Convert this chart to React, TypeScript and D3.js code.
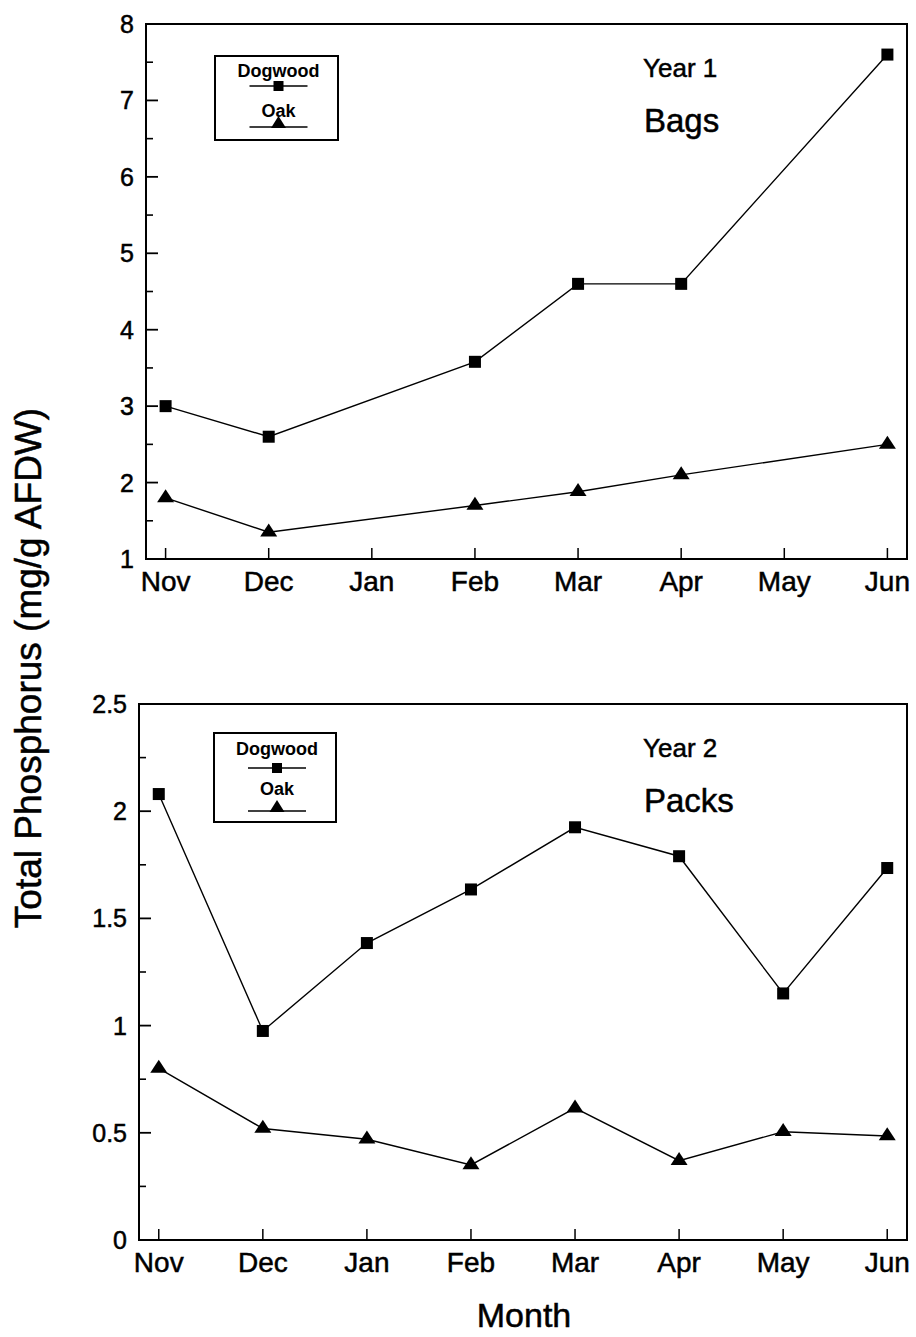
import React from "react";
import * as d3 from "d3";

// Sampling months shown on the x axis
const months = ["Nov", "Dec", "Jan", "Feb", "Mar", "Apr", "May", "Jun"];

// Year 1 (bags): sampled months and total P (mg/g AFDW)
const year1Months = ["Nov", "Dec", "Feb", "Mar", "Apr", "Jun"];
const dogwoodYear1 = [3.0, 2.6, 3.58, 4.6, 4.6, 7.6];
const oakYear1 = [1.8, 1.35, 1.7, 1.88, 2.1, 2.5];

// Year 2 (packs)
const year2Months = ["Nov", "Dec", "Jan", "Feb", "Mar", "Apr", "May", "Jun"];
const dogwoodYear2 = [2.08, 0.975, 1.385, 1.635, 1.925, 1.79, 1.15, 1.735];
const oakYear2 = [0.8, 0.52, 0.47, 0.35, 0.615, 0.37, 0.505, 0.485];

// Axis ticks
const year1Ticks = [1, 2, 3, 4, 5, 6, 7, 8];
const year1Minor = [1.5, 2.5, 3.5, 4.5, 5.5, 6.5, 7.5];
const year2Ticks = [0, 0.5, 1, 1.5, 2, 2.5];
const year2Minor = [0.25, 0.75, 1.25, 1.75, 2.25];

const FONT = "'Liberation Sans', Arial, Helvetica, sans-serif";
// slight outline gives the text the heavier weight of the printed figure
const TEXT_STYLE = { stroke: "#000", strokeWidth: 0.5 };

type PanelProps = {
  left: number;
  right: number;
  top: number;
  bottom: number;
  domain: [number, number];
  ticks: number[];
  minor: number[];
  tickFormat: (v: number) => string;
  seriesMonths: string[];
  dogwood: number[];
  oak: number[];
  yearLabel: string;
  typeLabel: string;
  legendBox: { x: number; y: number; w: number; h: number };
  legendRows: { dogText: number; dogLine: number; oakText: number; oakLine: number };
};

const Square = ({ cx, cy, s }: { cx: number; cy: number; s: number }) => (
  <rect x={cx - s / 2} y={cy - s / 2} width={s} height={s} fill="#000" />
);

const Triangle = ({ cx, cy, w, h }: { cx: number; cy: number; w: number; h: number }) => (
  <path
    d={`M${cx},${cy - (h * 2) / 3}L${cx + w / 2},${cy + h / 3}L${cx - w / 2},${cy + h / 3}Z`}
    fill="#000"
  />
);

function Panel(p: PanelProps) {
  const x = d3.scalePoint<string>().domain(months).range([p.left, p.right]).padding(0.19);
  const y = d3.scaleLinear().domain(p.domain).range([p.bottom, p.top]);
  const line = d3
    .line<[string, number]>()
    .x((d) => x(d[0]) as number)
    .y((d) => y(d[1]));
  const dogPts: [string, number][] = p.seriesMonths.map((m, i) => [m, p.dogwood[i]]);
  const oakPts: [string, number][] = p.seriesMonths.map((m, i) => [m, p.oak[i]]);
  const lb = p.legendBox;
  const lcx = lb.x + lb.w / 2 + 2;
  return (
    <g>
      {/* frame */}
      <rect
        x={p.left}
        y={p.top}
        width={p.right - p.left}
        height={p.bottom - p.top}
        fill="none"
        stroke="#000"
        strokeWidth={2}
      />
      {/* y ticks */}
      {p.ticks.map((t) => (
        <g key={"t" + t}>
          <line x1={p.left} x2={p.left + 12} y1={y(t)} y2={y(t)} stroke="#000" strokeWidth={1.8} />
          <text
            x={p.left - 12}
            y={y(t)}
            dy="0.36em"
            textAnchor="end"
            fontSize={25}
            fontFamily={FONT}
            style={TEXT_STYLE}
          >
            {p.tickFormat(t)}
          </text>
        </g>
      ))}
      {p.minor.map((t) => (
        <line key={"m" + t} x1={p.left} x2={p.left + 7} y1={y(t)} y2={y(t)} stroke="#000" strokeWidth={1.6} />
      ))}
      {/* x ticks */}
      {months.map((m) => (
        <g key={m}>
          <line
            x1={x(m)}
            x2={x(m)}
            y1={p.bottom}
            y2={p.bottom - 11}
            stroke="#000"
            strokeWidth={1.5}
          />
          <text
            x={x(m)}
            y={p.bottom + 32}
            textAnchor="middle"
            fontSize={28}
            fontFamily={FONT}
            style={TEXT_STYLE}
          >
            {m}
          </text>
        </g>
      ))}
      {/* series */}
      <path d={line(dogPts) || ""} fill="none" stroke="#000" strokeWidth={1.4} />
      <path d={line(oakPts) || ""} fill="none" stroke="#000" strokeWidth={1.4} />
      {dogPts.map((d) => (
        <Square key={"d" + d[0]} cx={x(d[0]) as number} cy={y(d[1])} s={12} />
      ))}
      {oakPts.map((d) => (
        <Triangle key={"o" + d[0]} cx={x(d[0]) as number} cy={y(d[1])} w={17} h={13} />
      ))}
      {/* legend */}
      <rect x={lb.x} y={lb.y} width={lb.w} height={lb.h} fill="#fff" stroke="#000" strokeWidth={2} />
      <text
        x={lcx}
        y={p.legendRows.dogText}
        textAnchor="middle"
        fontSize={18}
        fontWeight="bold"
        fontFamily={FONT}
      >
        Dogwood
      </text>
      <line x1={lcx - 29} x2={lcx + 29} y1={p.legendRows.dogLine} y2={p.legendRows.dogLine} stroke="#000" strokeWidth={1.6} />
      <Square cx={lcx} cy={p.legendRows.dogLine} s={10} />
      <text
        x={lcx}
        y={p.legendRows.oakText}
        textAnchor="middle"
        fontSize={18}
        fontWeight="bold"
        fontFamily={FONT}
      >
        Oak
      </text>
      <line x1={lcx - 29} x2={lcx + 29} y1={p.legendRows.oakLine} y2={p.legendRows.oakLine} stroke="#000" strokeWidth={1.6} />
      <Triangle cx={lcx} cy={p.legendRows.oakLine - 3} w={15} h={12} />
      {/* panel labels */}
      <text x={643} y={p.top + 53} fontSize={26} fontFamily={FONT} style={TEXT_STYLE}>
        {p.yearLabel}
      </text>
      <text x={644} y={p.top + 108} fontSize={33} fontFamily={FONT} style={TEXT_STYLE}>
        {p.typeLabel}
      </text>
    </g>
  );
}

export default function App() {
  return (
    <svg
      width={916}
      height={1337}
      viewBox="0 0 916 1337"
      style={{ position: "absolute", left: 0, top: 0, background: "#fff" }}
    >
      <rect width={916} height={1337} fill="#fff" />
      <Panel
        left={146}
        right={907}
        top={24}
        bottom={559}
        domain={[1, 8]}
        ticks={year1Ticks}
        minor={year1Minor}
        tickFormat={(v) => String(v)}
        seriesMonths={year1Months}
        dogwood={dogwoodYear1}
        oak={oakYear1}
        yearLabel="Year 1"
        typeLabel="Bags"
        legendBox={{ x: 215, y: 56, w: 123, h: 84 }}
        legendRows={{ dogText: 77, dogLine: 86, oakText: 117, oakLine: 127 }}
      />
      <Panel
        left={139}
        right={907}
        top={704}
        bottom={1240}
        domain={[0, 2.5]}
        ticks={year2Ticks}
        minor={year2Minor}
        tickFormat={(v) => String(v)}
        seriesMonths={year2Months}
        dogwood={dogwoodYear2}
        oak={oakYear2}
        yearLabel="Year 2"
        typeLabel="Packs"
        legendBox={{ x: 214, y: 733, w: 122, h: 89 }}
        legendRows={{ dogText: 755, dogLine: 768, oakText: 795, oakLine: 811 }}
      />
      <text
        transform="translate(41,668) rotate(-90)"
        textAnchor="middle"
        fontSize={37}
        fontFamily={FONT}
        style={TEXT_STYLE}
      >
        Total Phosphorus (mg/g AFDW)
      </text>
      <text x={524} y={1327} textAnchor="middle" fontSize={34} fontFamily={FONT} style={TEXT_STYLE}>
        Month
      </text>
    </svg>
  );
}
